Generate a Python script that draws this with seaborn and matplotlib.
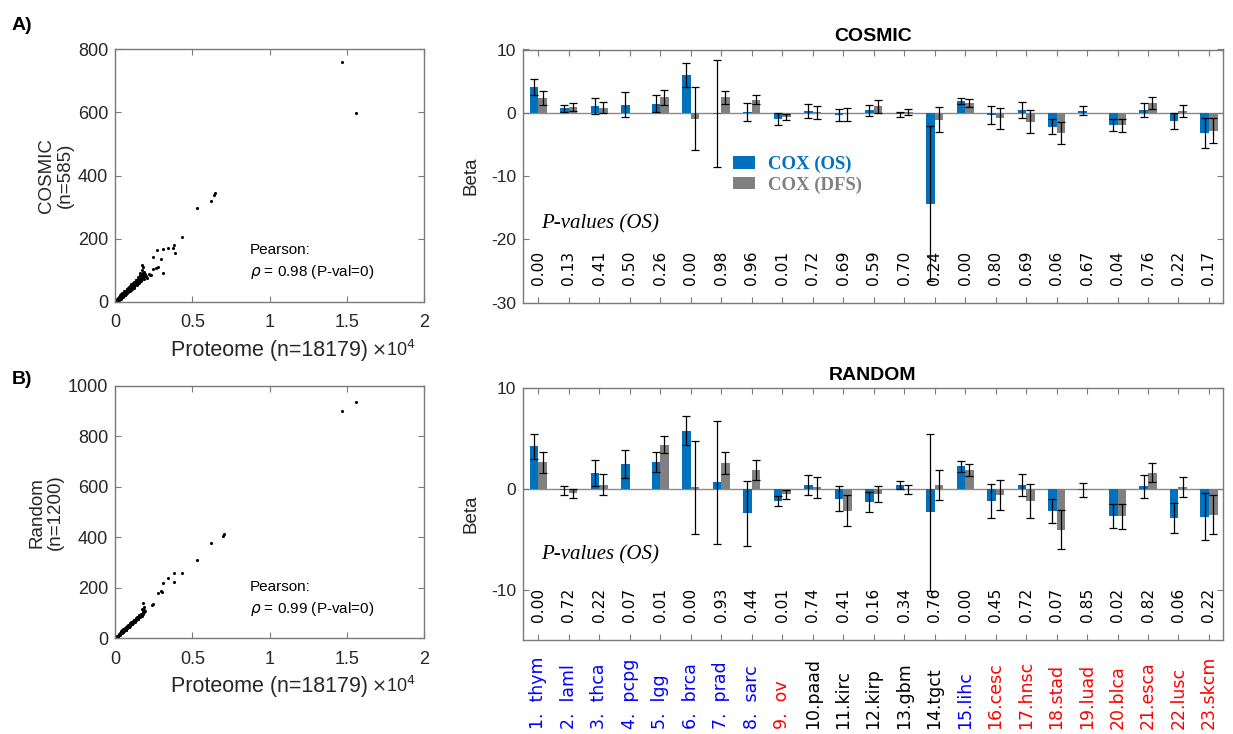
import numpy as np
import pandas as pd
import matplotlib
matplotlib.use("Agg")
import matplotlib.pyplot as plt
import seaborn as sns
from matplotlib.patches import Patch

# ---------------- data ----------------
cancers = ["thym", "laml", "thca", "pcpg", "lgg", "brca", "prad", "sarc", "ov",
           "paad", "kirc", "kirp", "gbm", "tgct", "lihc", "cesc", "hnsc", "stad",
           "luad", "blca", "esca", "lusc", "skcm"]
label_colors = ["blue"] * 8 + ["red"] + ["black"] * 5 + ["blue"] + ["red"] * 8

models = ["COX (OS)", "COX (DFS)"]

cosmic_os = [4.1, 0.7, 1.05, 1.3, 1.45, 5.95, -0.15, 0.1, -1.0, 0.3, -0.35, 0.4,
             -0.2, -14.35, 1.9, -0.35, 0.45, -2.2, 0.3, -1.9, 0.4, -1.35, -3.2]
cosmic_os_err = [1.25, 0.5, 1.3, 2.0, 1.3, 1.85, 8.45, 1.45, 0.9, 1.1, 1.0, 0.9,
                 0.4, 12.3, 0.5, 1.4, 1.2, 1.15, 0.7, 0.9, 1.1, 1.25, 2.35]
cosmic_dfs = [2.35, 0.95, 0.8, np.nan, 2.45, -0.95, 2.45, 2.1, -0.72, 0.1, -0.25,
              1.0, 0.15, -1.1, 1.55, -0.88, -1.42, -3.25, np.nan, -2.0, 1.55, 0.3, -2.8]
cosmic_dfs_err = [1.05, 0.6, 0.9, np.nan, 1.15, 4.95, 1.05, 0.75, 0.47, 1.05, 1.05,
                  1.0, 0.5, 1.97, 0.58, 1.7, 1.84, 1.74, np.nan, 1.03, 1.0, 0.95, 1.97]
cosmic_p = [0.00, 0.13, 0.41, 0.50, 0.26, 0.00, 0.98, 0.96, 0.01, 0.72, 0.69, 0.59,
            0.70, 0.24, 0.00, 0.80, 0.69, 0.06, 0.67, 0.04, 0.76, 0.22, 0.17]

random_os = [4.22, -0.15, 1.55, 2.5, 2.65, 5.8, 0.65, -2.43, -1.15, 0.38, -0.95,
             -1.29, 0.43, -2.3, 2.25, -1.22, 0.43, -2.18, -0.1, -2.68, 0.26, -2.88, -2.77]
random_os_err = [1.24, 0.4, 1.29, 1.37, 0.99, 1.42, 6.09, 3.25, 0.5, 1.0, 1.22, 0.96,
                 0.4, 7.8, 0.56, 1.68, 1.09, 1.16, 0.74, 1.22, 1.17, 1.49, 2.33]
random_dfs = [2.65, -0.43, 0.44, np.nan, 4.39, 0.15, 2.56, 1.9, -0.52, 0.15, -2.15,
              -0.5, -0.03, 0.4, 1.86, -0.58, -1.16, -4.05, np.nan, -2.72, 1.63, 0.2, -2.54]
random_dfs_err = [1.07, 0.45, 1.06, np.nan, 0.83, 4.64, 1.07, 1.02, 0.46, 1.0, 1.53,
                  0.83, 0.46, 1.53, 0.59, 1.5, 1.68, 1.95, np.nan, 1.27, 0.96, 1.02, 1.91]
random_p = [0.00, 0.72, 0.22, 0.07, 0.01, 0.00, 0.93, 0.44, 0.01, 0.74, 0.41, 0.16,
            0.34, 0.76, 0.00, 0.45, 0.72, 0.07, 0.85, 0.02, 0.82, 0.06, 0.22]

# Proteome size vs. gene-set size per sample (COSMIC panel)
cosmic_points = [
    (20, 1), (40, 2), (60, 2), (80, 3), (110, 5), (140, 6), (170, 7), (200, 9),
    (240, 10), (280, 12), (320, 14), (360, 16), (400, 18), (440, 19), (480, 21),
    (520, 23), (560, 25), (600, 27), (650, 29), (700, 31), (750, 34), (800, 36),
    (850, 38), (900, 40), (950, 43), (1000, 45), (1050, 47), (1100, 49), (1150, 52),
    (1200, 54), (1250, 56), (1300, 59), (1350, 61), (1400, 63), (1450, 66),
    (1500, 68), (1560, 71), (1600, 73), (1650, 75), (1700, 78), (1760, 80),
    (1820, 83), (1880, 86), (1940, 89),
    (250, 6), (350, 11), (500, 16), (650, 22), (800, 28), (950, 33), (1100, 40),
    (1250, 45), (1400, 52), (1550, 58), (1700, 65), (1850, 72), (300, 20),
    (450, 26), (600, 33), (750, 41), (900, 48), (1050, 56), (1200, 63), (1350, 70),
    (1500, 77), (1650, 84), (1800, 92), (1750, 100), (1600, 90), (2000, 80),
    (2100, 76), (2200, 88),
    (100, 8), (150, 3), (190, 12), (230, 4), (270, 16), (310, 8), (340, 19),
    (380, 10), (420, 24), (460, 14), (510, 28), (540, 18), (580, 32), (620, 21),
    (670, 35), (720, 25), (770, 39), (820, 30), (870, 44), (920, 34), (970, 50),
    (1020, 38), (1070, 54), (1120, 43), (1170, 58), (1220, 48), (1270, 62),
    (1320, 52), (1370, 68), (1420, 57), (1470, 72), (1520, 62), (1580, 79),
    (1630, 67), (1680, 85), (1730, 72), (1780, 90), (1830, 77), (1900, 95),
    (1960, 82),
    (1726, 116), (1790, 109), (2265, 85), (2330, 86), (2481, 103), (2654, 106),
    (2805, 109), (3128, 90), (2438, 143), (2697, 164), (2999, 134), (3128, 166),
    (3452, 169), (3776, 169), (3819, 180), (3883, 155), (4337, 206), (5307, 297),
    (6214, 320), (6400, 338), (6453, 345), (14712, 760), (15599, 599),
]
cosmic_prot = [p[0] for p in cosmic_points]
cosmic_size = [p[1] for p in cosmic_points]

# Proteome size vs. gene-set size per sample (random panel)
random_points = [
    (20, 1), (40, 2), (60, 3), (80, 4), (110, 6), (140, 8), (170, 9), (200, 11),
    (240, 13), (280, 15), (320, 18), (360, 20), (400, 22), (440, 24), (480, 26),
    (520, 29), (560, 31), (600, 33), (650, 36), (700, 38), (750, 41), (800, 44),
    (850, 47), (900, 50), (950, 52), (1000, 55), (1050, 58), (1100, 61), (1150, 63),
    (1200, 66), (1250, 69), (1300, 72), (1350, 74), (1400, 77), (1450, 80),
    (1500, 83), (1560, 86), (1600, 88), (1650, 91), (1700, 94), (1760, 97),
    (1820, 100), (1880, 103), (1940, 107),
    (300, 13), (500, 24), (700, 34), (900, 45), (1100, 55), (1300, 66), (1500, 77),
    (1700, 88), (400, 27), (600, 38), (800, 49), (1000, 60), (1200, 71), (1400, 82),
    (1600, 94), (1800, 106), (1750, 115), (1850, 125),
    (100, 4), (150, 10), (190, 8), (230, 16), (270, 12), (310, 21), (350, 16),
    (390, 26), (430, 20), (470, 31), (510, 25), (550, 36), (590, 30), (640, 41),
    (690, 34), (740, 46), (790, 40), (840, 52), (890, 45), (940, 57), (990, 50),
    (1040, 63), (1090, 56), (1140, 68), (1190, 62), (1240, 74), (1290, 67),
    (1340, 79), (1390, 72), (1440, 86), (1490, 78), (1550, 92), (1610, 83),
    (1660, 98), (1720, 89), (1780, 104), (1840, 96), (1900, 112),
    (1834, 139), (2373, 131), (2438, 136), (2805, 178), (2956, 189), (3020, 182),
    (3128, 218), (3452, 238), (3819, 224), (3819, 258), (4337, 258), (5307, 310),
    (6214, 379), (7012, 407), (7055, 412), (14712, 900), (15599, 935),
]
random_prot = [p[0] for p in random_points]
random_size = [p[1] for p in random_points]

# ---------------- style ----------------
sns.set_theme(style="white")
plt.rcParams["font.family"] = ["Liberation Sans", "DejaVu Sans"]
plt.rcParams["axes.edgecolor"] = "#7a7a7a"
plt.rcParams["axes.linewidth"] = 1.0

BLUE = "#0072BD"
GRAY = "#808080"
TXT = "#262626"

fig = plt.figure(figsize=(12.33, 7.34), dpi=100)
fig.patch.set_facecolor("white")

W, H = 1233.0, 734.0


def px_axes(left, top, right, bottom):
    return fig.add_axes([left / W, 1 - bottom / H, (right - left) / W, (bottom - top) / H])


def style_ticks(ax, size=12.5, pad=5):
    ax.tick_params(direction="in", bottom=True, left=True, top=True, right=True,
                   length=4, width=0.8, color="#7a7a7a", labelsize=size,
                   labelcolor=TXT, pad=pad)


def scatter_panel(ax, prot, size, ylabel, ymax, yticks, rho):
    sns.scatterplot(x=prot, y=size, color="black", s=5, linewidth=0, ax=ax)
    ax.set_xlim(0, 20000)
    ax.set_ylim(0, ymax)
    ax.set_xticks([0, 5000, 10000, 15000, 20000])
    ax.set_xticklabels(["0", "0.5", "1", "1.5", "2"])
    ax.set_yticks(yticks)
    ax.set_yticklabels([str(v) for v in yticks])
    style_ticks(ax, 13)
    ax.tick_params(axis="x", pad=9)
    ax.set_xlabel("Proteome (n=18179)", fontsize=15.5, color=TXT, labelpad=6)
    ax.set_ylabel(ylabel, fontsize=13.5, color=TXT, labelpad=3, linespacing=1.1)
    ax.text(0.83, -0.19, r"$\times$10$^{4}$", transform=ax.transAxes,
            fontsize=13, color=TXT, ha="left", va="center")
    ax.text(0.437, 0.205, "Pearson:", transform=ax.transAxes, fontsize=11,
            ha="left", va="center", color="black")
    ax.text(0.437, 0.118, r"$\rho$ = %.2f (P-val=0)" % rho, transform=ax.transAxes,
            fontsize=11, ha="left", va="center", color="black")
    for s in ax.spines.values():
        s.set_visible(True)


def bar_panel(ax, os_vals, os_err, dfs_vals, dfs_err, pvals, title, ylim, yticks,
              p_y, ptitle_y, legend=False, names=False):
    df = pd.DataFrame({
        "cancer": cancers * 2,
        "model": [models[0]] * len(cancers) + [models[1]] * len(cancers),
        "beta": list(os_vals) + list(dfs_vals),
    })
    ax.axhline(0, color="#8a8a8a", lw=1.0, zorder=0.5)
    sns.barplot(data=df, x="cancer", y="beta", hue="model", order=cancers,
                hue_order=models, palette=[BLUE, GRAY], saturation=1, width=0.56,
                errorbar=None, linewidth=0, legend=False, ax=ax, zorder=2)
    xs = np.arange(len(cancers))
    ax.errorbar(xs - 0.14, os_vals, yerr=os_err, fmt="none", ecolor="black",
                elinewidth=0.9, capsize=3.2, capthick=0.9, zorder=3)
    ax.errorbar(xs + 0.14, dfs_vals, yerr=dfs_err, fmt="none", ecolor="black",
                elinewidth=0.9, capsize=3.2, capthick=0.9, zorder=3)
    ax.set_xlim(-0.5, 22.45)
    ax.set_ylim(*ylim)
    ax.set_yticks(yticks)
    ax.set_yticklabels([str(v) for v in yticks])
    ax.set_xticks(xs)
    ax.set_xticklabels([])
    style_ticks(ax, 12.5)
    ax.tick_params(axis="x", length=4)
    ax.set_xlabel("")
    ax.set_ylabel("Beta", fontsize=13.5, color=TXT, labelpad=8)
    ax.set_title(title, fontsize=14, fontweight="bold", color="black", pad=6)
    for x, p in zip(xs, pvals):
        ax.text(x, p_y, "%.2f" % p, rotation=90, ha="center", va="center",
                fontsize=11.2, family="DejaVu Sans", color="black", zorder=4)
    ax.text(0.1, ptitle_y, "P-values (OS)", ha="left", va="center", fontsize=15,
            family="Liberation Serif", style="italic", color="black")
    if legend:
        handles = [Patch(facecolor=BLUE, edgecolor="none"),
                   Patch(facecolor=GRAY, edgecolor="none")]
        leg = ax.legend(handles, models, loc="upper left", bbox_to_anchor=(0.300, 0.580),
                        frameon=False, borderpad=0, borderaxespad=0, handlelength=1.2,
                        handleheight=0.62, handletextpad=0.65, labelspacing=0.17,
                        prop={"family": "Liberation Serif", "weight": "bold", "size": 13.5})
        for t, c in zip(leg.get_texts(), [BLUE, GRAY]):
            t.set_color(c)
    if names:
        tr = ax.get_xaxis_transform()
        for x, name, c in zip(xs, cancers, label_colors):
            num = "%d." % (x + 1)
            lab = num + ("  " if x < 9 else "") + name
            ax.text(x, -0.355, lab, transform=tr, rotation=90, ha="center",
                    va="bottom", fontsize=12.5, family="DejaVu Sans", color=c)
    for s in ax.spines.values():
        s.set_visible(True)


ax_s1 = px_axes(115, 49.3, 424, 301.7)
scatter_panel(ax_s1, cosmic_prot, cosmic_size, "COSMIC\n(n=585)", 800,
              [0, 200, 400, 600, 800], 0.98)
ax_s2 = px_axes(115, 386, 424, 638.3)
scatter_panel(ax_s2, random_prot, random_size, "Random\n(n=1200)", 1000,
              [0, 200, 400, 600, 800, 1000], 0.99)

ax_b1 = px_axes(523, 49.5, 1222.7, 302.7)
bar_panel(ax_b1, cosmic_os, cosmic_os_err, cosmic_dfs, cosmic_dfs_err, cosmic_p,
          "COSMIC", (-30, 10), [-30, -20, -10, 0, 10], -24.5, -17.5, legend=True)
ax_b2 = px_axes(523, 388.3, 1222.7, 640)
bar_panel(ax_b2, random_os, random_os_err, random_dfs, random_dfs_err, random_p,
          "RANDOM", (-15, 10), [-10, 0, 10], -11.5, -6.5, names=True)

fig.text(12 / W, 1 - 26 / H, "A)", fontsize=14, fontweight="bold", ha="left",
         va="center", color="black")
fig.text(12 / W, 1 - 379 / H, "B)", fontsize=14, fontweight="bold", ha="left",
         va="center", color="black")

fig.savefig("out.png", dpi=100, facecolor="white")
